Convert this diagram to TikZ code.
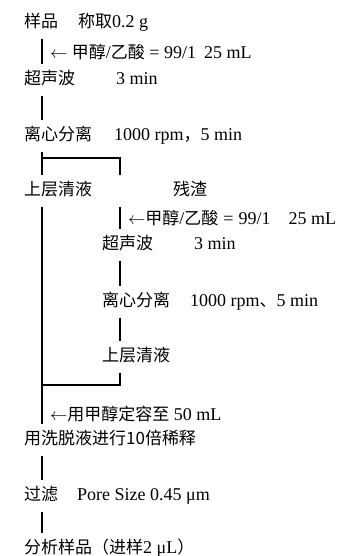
\documentclass[tikz,border=0pt]{standalone}
\usepackage{fontspec}
\setmainfont{Liberation Serif}
\newfontfamily\cjk{Noto Sans CJK SC}[Scale=0.944]
\newcommand{\zh}[1]{{\cjk #1}}
\tikzset{stepbox/.style={anchor=west,inner xsep=0pt,inner ysep=8pt,text height=12pt,text depth=3pt},
	note/.style={anchor=west,inner sep=0pt},
	flow/.style={line width=1.6pt}}
\begin{document}
\begin{tikzpicture}[x=1pt,y=-1pt,font=\fontsize{18}{20}\selectfont]
	\useasboundingbox (0,0) rectangle (344,556);
	\path (42,0) coordinate (T)
	(120,0) coordinate (B)
	(42,158) coordinate (split)
	(120,158) coordinate (splitR)
	(42,385) coordinate (merge)
	(120,385) coordinate (mergeR)
	;
	\node[stepbox] (s1) at (24,23) {\zh{样品}\hspace{20pt}\zh{称取}0.2 g};
	\node[stepbox] (s2) at (24,80) {\zh{超声波}\hspace{41pt}3 min};
	\node[stepbox] (s3) at (24,136) {\zh{离心分离}\hspace{22pt}1000 rpm\zh{，}5 min};
	\node[stepbox] (s4) at (24,191) {\zh{上层清液}};
	\node[stepbox] (res) at (173,191) {\zh{残渣}};
	\node[stepbox] (r1) at (102,245) {\zh{超声波}\hspace{41pt}3 min};
	\node[stepbox] (r2) at (102,302) {\zh{离心分离}\hspace{20pt}1000 rpm\zh{、}5 min};
	\node[stepbox] (r3) at (102,357) {\zh{上层清液}};
	\node[stepbox] (s5) at (24,440) {\zh{用洗脱液进行10倍稀释}};
	\node[stepbox] (s6) at (24,496) {\zh{过滤}\hspace{19pt}Pore Size 0.45 μm};
	\node[stepbox] (s7) at (24,549) {\zh{分析样品（进样}2 μL\zh{）}};
	\node[note] (a1) at (50,52) {$\leftarrow$ \zh{甲醇}/\zh{乙酸} = 99/1\hspace{8pt}25 mL};
	\node[note] (a2) at (128,218) {$\leftarrow$\zh{甲醇}/\zh{乙酸}\hspace{5pt}=\hspace{5pt}99/1\hspace{18pt}25 mL};
	\node[note] (a3) at (50,414) {$\leftarrow$\zh{用甲醇定容至} 50 mL};
	\foreach \a/\b in {s1/s2,s2/s3,s5/s6,s6/s7}{\draw[flow] (\a.south -| T)--(\b.north -| T);}
	\foreach \a/\b in {res/r1,r1/r2,r2/r3}{\draw[flow] (\a.south -| B)--(\b.north -| B);}
	\draw[flow] (s3.south -| T)--(split)--(splitR)--(res.north -| B);
	\draw[flow] (split)--(s4.north -| T);
	\draw[flow] (s4.south -| T)--(merge)--(s5.north -| T);
	\draw[flow] (r3.south -| B)--(mergeR)--(merge);
\end{tikzpicture}
\end{document}
